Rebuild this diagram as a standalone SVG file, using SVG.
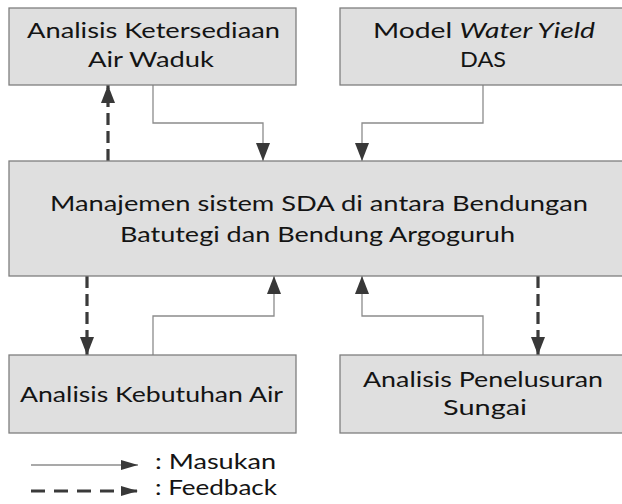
<svg xmlns="http://www.w3.org/2000/svg" width="622" height="504" viewBox="0 0 622 504">
<style>
.box{fill:#dfdfdf;stroke:#7f7f7f;stroke-width:1.3}
.t{font-family:Lato,"Open Sans","Liberation Sans",sans-serif;font-size:22px;fill:#141414;text-anchor:middle}
.lt{font-family:Lato,"Open Sans","Liberation Sans",sans-serif;font-size:22px;fill:#141414}
.in{fill:none;stroke:#8c8c8c;stroke-width:1.3}
.fb{fill:none;stroke:#3a3a3a;stroke-width:3.2;stroke-dasharray:12 6}
.fbl{fill:none;stroke:#3a3a3a;stroke-width:3.2;stroke-dasharray:14 9}
</style>
<defs>
<marker id="ah" markerUnits="userSpaceOnUse" markerWidth="18" markerHeight="14" refX="18" refY="7" orient="auto">
<path d="M0,0 L18,7 L0,14 Z" fill="#383838"/>
</marker>
<marker id="ahs" markerUnits="userSpaceOnUse" markerWidth="17" markerHeight="10" refX="17" refY="5" orient="auto">
<path d="M0,0 L17,5 L0,10 Z" fill="#383838"/>
</marker>
</defs>
<rect width="622" height="504" fill="#ffffff"/>
<g id="connectors">
<path class="in" d="M153,85 V123 H263 V161" marker-end="url(#ah)"/>
<path class="in" d="M483,85 V123 H362 V161" marker-end="url(#ah)"/>
<path class="fb" d="M108,161 V85" marker-end="url(#ah)"/>
<path class="fb" d="M87,276 V355" marker-end="url(#ah)"/>
<path class="fb" d="M538,276 V355" marker-end="url(#ah)"/>
<path class="in" d="M153,355 V316 H274 V276" marker-end="url(#ah)"/>
<path class="in" d="M483,355 V316 H362 V276" marker-end="url(#ah)"/>
</g>
<g id="node-ketersediaan">
<rect class="box" x="9" y="8" width="287" height="77"/>
<text class="t" x="153.5" y="38" textLength="253" lengthAdjust="spacingAndGlyphs">Analisis Ketersediaan</text>
<text class="t" x="151" y="67" textLength="126" lengthAdjust="spacingAndGlyphs">Air Waduk</text>
</g>
<g id="node-wateryield">
<rect class="box" x="340" y="8" width="300" height="77"/>
<text class="t" x="484" y="38" textLength="222" lengthAdjust="spacingAndGlyphs">Model <tspan font-style="italic">Water Yield</tspan></text>
<text class="t" x="483" y="67" textLength="46" lengthAdjust="spacingAndGlyphs">DAS</text>
</g>
<g id="node-manajemen">
<rect class="box" x="9" y="161" width="640" height="115"/>
<text class="t" x="319" y="211" textLength="538" lengthAdjust="spacingAndGlyphs">Manajemen sistem SDA di antara Bendungan</text>
<text class="t" x="317.5" y="242" textLength="395" lengthAdjust="spacingAndGlyphs">Batutegi dan Bendung Argoguruh</text>
</g>
<g id="node-kebutuhan">
<rect class="box" x="9" y="355" width="287" height="78"/>
<text class="t" x="151.5" y="402" textLength="263" lengthAdjust="spacingAndGlyphs">Analisis Kebutuhan Air</text>
</g>
<g id="node-penelusuran">
<rect class="box" x="340" y="355" width="300" height="78"/>
<text class="t" x="483" y="387" textLength="240" lengthAdjust="spacingAndGlyphs">Analisis Penelusuran</text>
<text class="t" x="485" y="415" textLength="84" lengthAdjust="spacingAndGlyphs">Sungai</text>
</g>
<g id="legend">
<path class="in" d="M31,465 H138" marker-end="url(#ahs)"/>
<text class="lt" x="155" y="469" textLength="121" lengthAdjust="spacingAndGlyphs">: Masukan</text>
<path class="fbl" d="M31,491 H138" marker-end="url(#ahs)"/>
<text class="lt" x="155" y="495" textLength="122" lengthAdjust="spacingAndGlyphs">: Feedback</text>
</g>
</svg>
